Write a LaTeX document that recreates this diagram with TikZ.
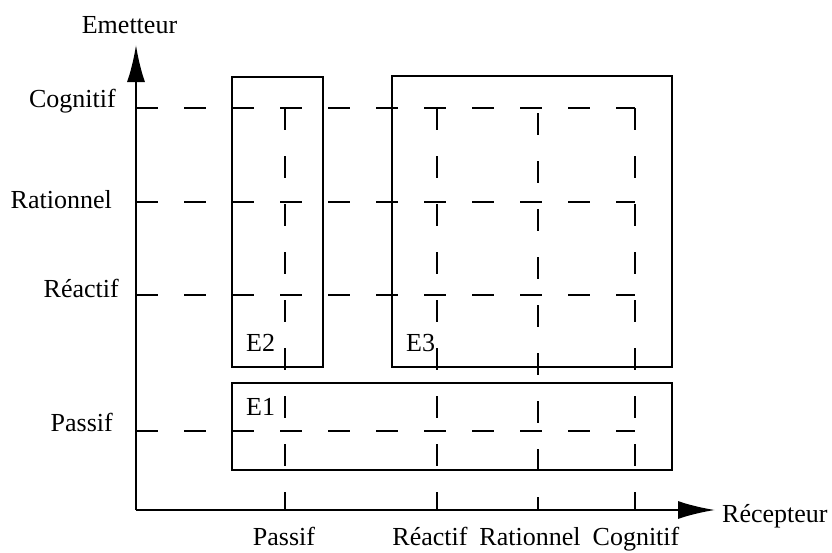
\documentclass[tikz,border=0pt]{standalone}
\usepackage{fontspec}
\setmainfont{Liberation Serif}
\usetikzlibrary{arrows.meta}
\begin{document}
\begin{tikzpicture}[x=1pt,y=-1pt,
  lbl/.style={inner sep=0pt,font=\fontsize{26}{30}\selectfont},
  axis/.style={line width=2.2pt,-{Latex[length=37pt,width=18pt]}},
  grid/.style={line width=2pt,dash pattern=on 22pt off 26pt},
  zone/.style={line width=2pt,line join=miter}]
\useasboundingbox (0,0) rectangle (832,552);

% axes
\coordinate (O) at (136,510);
\coordinate (ytip) at (136,45);
\coordinate (xtip) at (715,510);
\draw[axis] (O) -- (ytip);
\draw[axis] (O) -- (xtip);

% levels of the sender (horizontal) and receiver (vertical)
\coordinate (hC0) at (136,108); \coordinate (hC1) at (635,108);
\coordinate (hR0) at (136,202); \coordinate (hR1) at (635,202);
\coordinate (hA0) at (136,295); \coordinate (hA1) at (635,295);
\coordinate (hP0) at (136,431); \coordinate (hP1) at (635,431);
\coordinate (vP0) at (285,108); \coordinate (vP1) at (285,510);
\coordinate (vA0) at (437,108); \coordinate (vA1) at (437,510);
\coordinate (vR0) at (538,113); \coordinate (vR1) at (538,510);
\coordinate (vC0) at (635,108); \coordinate (vC1) at (635,510);
\foreach \a in {hC,hR,hA,hP,vP,vA,vR,vC}
  \draw[grid] (\a0) -- (\a1);

% zones
\draw[zone] (232,77) rectangle (323,367);
\draw[zone] (392,76) rectangle (672,367);
\draw[zone] (232,383) rectangle (672,470);
\node[lbl,anchor=base west] (e2) at (246,351) {E2};
\node[lbl,anchor=base west] (e3) at (406,351) {E3};
\node[lbl,anchor=base west] (e1) at (246,415) {E1};

% axis titles
\node[lbl,anchor=base] (em) at (129.5,33) {Emetteur};
\node[lbl,anchor=base west] (rc) at (722,522) {Récepteur};

% sender levels
\node[lbl,anchor=base east] (lC) at (116,107) {Cognitif};
\node[lbl,anchor=base east] (lR) at (112,208) {Rationnel};
\node[lbl,anchor=base east] (lA) at (119,297) {Réactif};
\node[lbl,anchor=base east] (lP) at (113,431) {Passif};

% receiver levels
\node[lbl,anchor=base] (bP) at (284,545) {Passif};
\node[lbl,anchor=base] (bA) at (430,545) {Réactif};
\node[lbl,anchor=base] (bR) at (530,545) {Rationnel};
\node[lbl,anchor=base] (bC) at (636,545) {Cognitif};
\end{tikzpicture}
\end{document}
